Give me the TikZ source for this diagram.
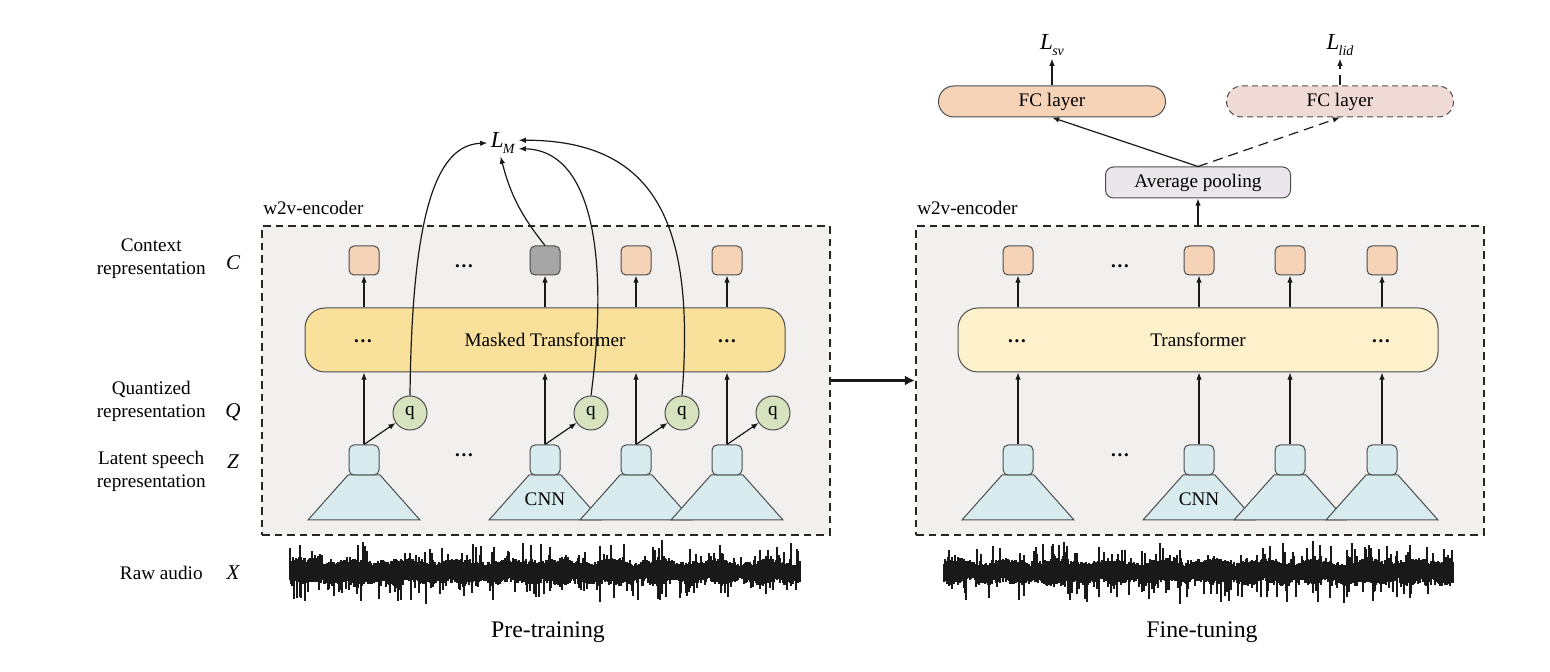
\documentclass[tikz,border=0pt]{standalone}
\usepackage{fontspec}
\setmainfont{Liberation Serif}
\usepackage{tikz}
\usetikzlibrary{positioning,arrows.meta}
\definecolor{wline}{HTML}{4D4D4D}
\definecolor{wbox}{HTML}{F1F0EE}
\definecolor{wmask}{HTML}{F9E19C}
\definecolor{wtf}{HTML}{FDF1CB}
\definecolor{wpeach}{HTML}{F5D3B7}
\definecolor{wgrey}{HTML}{A6A6A6}
\definecolor{wgreen}{HTML}{D7E3BE}
\definecolor{wcyan}{HTML}{D8EBEE}
\definecolor{wpool}{HTML}{EAE6EC}
\definecolor{wfc}{HTML}{F6D3B7}
\definecolor{wfcl}{HTML}{F0DAD5}
\newcommand{\wfont}{\fontsize{9.6}{11.5}\selectfont}
\newcommand{\lossn}[1]{\textit{L}\kern-0.3pt\raisebox{-0.5ex}{\fontsize{7}{8}\selectfont\textit{#1}}}
\tikzset{
  enc/.style  = {draw=black!85, fill=wbox, line width=1.15pt, dash pattern=on 3.8pt off 2.5pt,
                 minimum width=284pt, minimum height=154.5pt, inner sep=0pt},
  tf/.style   = {draw=wline, line width=0.5pt, rounded corners=10pt, minimum width=240pt,
                 minimum height=32pt, font=\wfont},
  sq/.style   = {draw=wline, line width=0.5pt, rounded corners=2.5pt, minimum width=15pt,
                 minimum height=15pt, inner sep=0pt},
  ctx/.style  = {sq, fill=wpeach, minimum height=14.5pt},
  ctxg/.style = {ctx, fill=wgrey},
  zsq/.style  = {sq, fill=wcyan},
  cnn/.style  = {draw=wline, line width=0.5pt, fill=wcyan},
  qn/.style   = {circle, draw=wline, line width=0.5pt, fill=wgreen, minimum size=17pt,
                 inner sep=0pt, font=\wfont},
  fc/.style   = {draw=wline, line width=0.5pt, rounded corners=7.7pt, minimum width=113.5pt,
                 minimum height=15.5pt, inner sep=1pt, font=\wfont},
  lab/.style  = {font=\wfont, inner sep=1pt},
  side/.style = {lab, align=center},
  sym/.style  = {font=\fontsize{10.5}{12}\selectfont\itshape, inner sep=1pt},
  loss/.style = {font=\fontsize{11.5}{13}\selectfont, inner sep=1.5pt},
  ell/.style  = {font=\wfont\bfseries, inner sep=0pt},
  a/.style    = {-{Latex[length=3.6pt,width=2.8pt]}, line width=0.6pt, draw=black!90},
  ad/.style   = {a, dash pattern=on 5pt off 3pt},
  abig/.style = {-{Latex[length=5pt,width=5pt]}, line width=1.2pt, draw=black!90},
  wave/.style = {line width=0.55pt, draw=black!90},
}
\begin{document}
\begin{tikzpicture}[x=0.5pt, y=-0.5pt]
\useasboundingbox (0,0) rectangle (1550,672);

% the two encoders
\node[enc] (encl) at (546,380.5) {};
\node[enc] (encr) at (1200,380.5) {};
\node[lab, above right=4pt and 0pt of encl.north west] (wl) {w2v-encoder};
\node[lab, above right=4pt and 0pt of encr.north west] (wr) {w2v-encoder};
\draw[abig] (encl.east) -- (encr.west);

% pre-training
\node[tf, fill=wmask] (tfm) at (545,340) {Masked Transformer};
\node[ell] (tml) at (363,341) {\ldots};
\node[ell] (tmr) at (727,341) {\ldots};
\foreach \x/\cs [count=\i from 0] in {364/ctx,545/ctxg,636/ctx,727/ctx} {
  \filldraw[cnn] ({\x-16},475) -- ({\x+16},475) -- ({\x+56},520) -- ({\x-56},520) -- cycle;
  \node[zsq] (z\i) at (\x,460) {};
  \node[qn] (q\i) at ({\x+46},413) {q};
  \draw[a] (z\i.north) -- (z\i.north |- tfm.south);
  \draw[a] (z\i.north) -- (q\i);
  \node[\cs] (c\i) at (\x,260.5) {};
  \draw[a] (c\i.south |- tfm.north) -- (c\i.south);
}
\node[ell] (cdl) at (464,266) {\ldots};
\node[ell] (zdl) at (464,455) {\ldots};
\node[lab] (cnnl) at (545,499) {CNN};

\node[loss] (lm) at (503,143) {\lossn{M}};
\draw[a] (q0.north) .. controls (412,200) and (440,145) .. (lm.west);
\draw[a] (c1.north) to[bend left=12] (lm.260);
\draw[a] (q1.north) .. controls (610,250) and (590,150) .. (lm.-20);
\draw[a] (q2.north) .. controls (695,230) and (660,140) .. (lm.10);

% fine-tuning
\node[tf, fill=wtf] (tfr) at (1198,340) {Transformer};
\node[ell] (trl) at (1017,341) {\ldots};
\node[ell] (trr) at (1381,341) {\ldots};
\foreach \x [count=\i from 0] in {1018,1199,1290,1382} {
  \filldraw[cnn] ({\x-16},475) -- ({\x+16},475) -- ({\x+56},520) -- ({\x-56},520) -- cycle;
  \node[zsq] (zr\i) at (\x,460) {};
  \draw[a] (zr\i.north) -- (zr\i.north |- tfr.south);
  \node[ctx] (cr\i) at (\x,260.5) {};
  \draw[a] (cr\i.south |- tfr.north) -- (cr\i.south);
}
\node[ell] (cdr) at (1120,266) {\ldots};
\node[ell] (zdr) at (1120,455) {\ldots};
\node[lab] (cnnr) at (1199,499) {CNN};

\node[fc, fill=wpool, minimum width=92.5pt, rounded corners=4pt] (pool) at (1198,182.5) {Average pooling};
\node[fc, fill=wfc] (fcs) at (1052,101.5) {FC layer};
\node[fc, fill=wfcl, dash pattern=on 3pt off 2pt] (fcl) at (1340,101.5) {FC layer};
\node[loss] (lsv) at (1052,45) {\lossn{sv}};
\node[loss] (llid) at (1340,45) {\lossn{lid}};
\draw[a] (pool.south |- encr.north) -- (pool.south);
\draw[a] (pool.north) -- (fcs.south);
\draw[ad] (pool.north) -- (fcl.south);
\draw[a] (fcs.north) -- (lsv.south);
\draw[ad] (fcl.north) -- (llid.south);

% row labels
\node[side, anchor=east] (lc) at (208,258.5) {Context\\representation};
\node[side, anchor=east] (lq) at (208,401.5) {Quantized\\representation};
\node[side, anchor=east] (lz) at (208,471.5) {Latent speech\\representation};
\node[side, anchor=east] (lx) at (205,573) {Raw audio};
\node[sym] (sc) at (233,263) {C};
\node[sym] (sq) at (233,412) {Q};
\node[sym] (sz) at (233,462) {Z};
\node[sym] (sx) at (233,573) {X};

% raw audio
\pgfmathsetseed{17}
\draw[wave] foreach \i in {0,...,510} {
  ({290+\i},{572-7-5*rnd-2*sin(7*\i)-20*rnd^8}) -- ({290+\i},{572+7+5*rnd+2*sin(11*\i)+20*rnd^8}) };
\draw[wave] foreach \i in {0,...,509} {
  ({944+\i},{572-7-5*rnd-2*sin(7*\i)-20*rnd^8}) -- ({944+\i},{572+7+5*rnd+2*sin(11*\i)+20*rnd^8}) };
\node[lab, font=\fontsize{11.9}{14}\selectfont] (pt) at (548,632) {Pre-training};
\node[lab, font=\fontsize{11.9}{14}\selectfont] (ft) at (1202,632) {Fine-tuning};

\end{tikzpicture}
\end{document}
